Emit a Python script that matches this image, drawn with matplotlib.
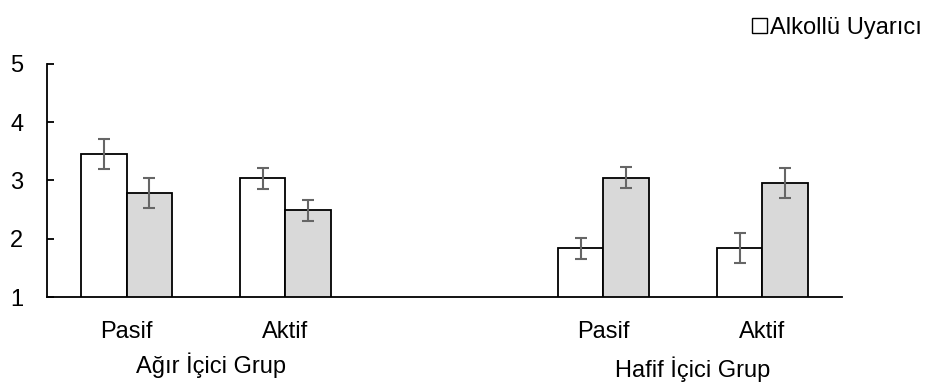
import matplotlib.pyplot as plt
import matplotlib.patches as mpatches
import numpy as np

plt.rcParams['font.family'] = ['Liberation Sans', 'DejaVu Sans']

conditions = ['Pasif', 'Aktif', 'Pasif', 'Aktif']
groups = ['Ağır İçici Grup', 'Hafif İçici Grup']
alkollu = [3.45, 3.04, 1.84, 1.84]
alkollu_err = [0.26, 0.18, 0.18, 0.26]
notr = [2.78, 2.49, 3.05, 2.96]
notr_err = [0.26, 0.18, 0.18, 0.255]

pos = np.array([0, 1, 3, 4])
w = 0.287

fig = plt.figure(figsize=(9.33, 3.82), dpi=100)
ax = fig.add_axes([0.0504, 0.2225, 0.852, 0.61])

err_kw = dict(ecolor='#666666', elinewidth=1.5, capsize=4, capthick=1.5)
ax.bar(pos - w / 2, alkollu, w, bottom=0, color='white', edgecolor='black',
       linewidth=1.3, yerr=alkollu_err, error_kw=err_kw, zorder=2)
ax.bar(pos + w / 2, notr, w, bottom=0, color='#d9d9d9', edgecolor='black',
       linewidth=1.3, yerr=notr_err, error_kw=err_kw, zorder=2)

ax.set_ylim(1, 5)
ax.set_xlim(-0.5, 4.5)
ax.set_yticks([1, 2, 3, 4, 5])
ax.set_xticks(pos)
ax.set_xticklabels(conditions)
ax.tick_params(axis='x', length=0, pad=17, labelsize=17)
ax.tick_params(axis='y', length=5, width=1.3, direction='in', pad=17, labelsize=17)
for s in ['top', 'right']:
    ax.spines[s].set_visible(False)
ax.spines['left'].set_linewidth(1.3)
ax.spines['bottom'].set_linewidth(1.3)

ax.text(0.53, -0.292, groups[0], transform=ax.get_xaxis_transform(),
        ha='center', va='center', fontsize=17)
ax.text(3.56, -0.309, groups[1], transform=ax.get_xaxis_transform(),
        ha='center', va='center', fontsize=17)

h = mpatches.Patch(facecolor='white', edgecolor='black', linewidth=1)
fig.legend([h], ['Alkollü Uyarıcı'], loc='upper right', bbox_to_anchor=(1.006, 1.0),
           frameon=False, fontsize=17, handlelength=0.6, handleheight=0.6,
           handletextpad=0.15, borderpad=0.2)

fig.savefig('out.png', dpi=100)
